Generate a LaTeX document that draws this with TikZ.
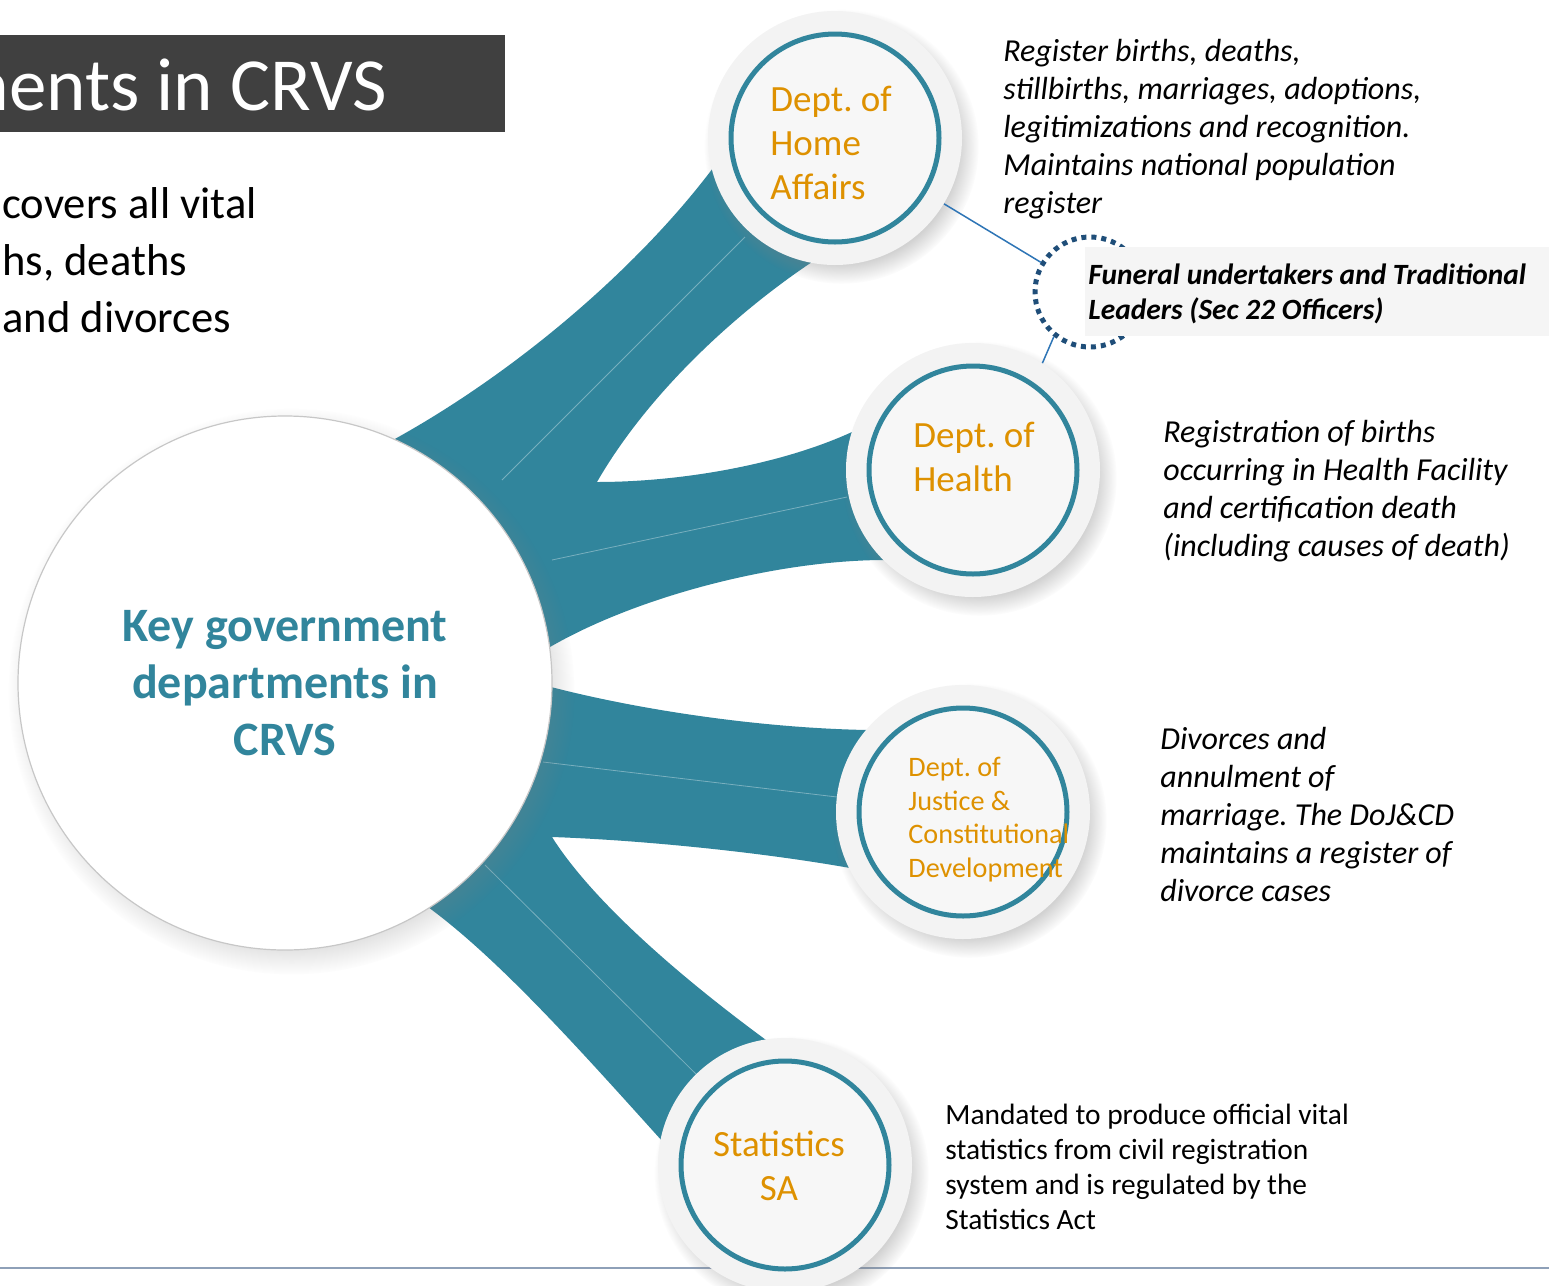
\documentclass[tikz,border=0pt]{standalone}
\usepackage{fontspec}
\setmainfont{Carlito}
\usepackage{tikz}
\usepackage{xcolor}
\usetikzlibrary{shadows}
\usetikzlibrary{fadings}
\definecolor{Ribbon Teal}{HTML}{31859C}
\definecolor{Title Gray}{HTML}{404040}
\definecolor{Dept Gold}{HTML}{DE9100}
\definecolor{Disc Gray}{HTML}{F3F3F3}
\definecolor{Link Blue}{HTML}{2E75B6}
\definecolor{Dot Blue}{HTML}{1F4E79}
\definecolor{Note Gray}{HTML}{F5F5F5}
\definecolor{Rule Gray}{HTML}{8EA0B8}
\frenchspacing

\tikzset{
    ribbon/.style={fill=Ribbon Teal},
    sheen/.style={draw=white, opacity=0.35, line width=0.4pt},
    hub/.style={circle, minimum size=267pt, inner sep=0pt, fill=white,
        draw=black!22, line width=0.6pt, align=center, text=Ribbon Teal,
        font=\bfseries\fontsize{24}{28.5}\selectfont,
        circular drop shadow={opacity=0.35, shadow scale=1.06,
            shadow xshift=3pt, shadow yshift=-4pt}},
    dept/.style={circle, minimum size=127pt, inner sep=0pt, fill=Disc Gray,
        circular drop shadow={opacity=0.35, shadow scale=1.08,
            shadow xshift=3pt, shadow yshift=-4pt},
        path picture={\draw[Ribbon Teal, line width=2.5pt, fill=white!97!black]
            (path picture bounding box.center) circle (52pt);}},
    deptlabel/.style={text=Dept Gold, align=left, inner sep=0pt,
        font=\fontsize{18.5}{22}\selectfont},
    notetext/.style={align=left, inner sep=0pt,
        font=\itshape\fontsize{16}{19}\selectfont},
    link/.style={draw=Link Blue, line width=0.75pt},
}

\begin{document}
\begin{tikzpicture}[x=0.5pt, y=-0.5pt]
    \useasboundingbox (0,0) rectangle (1549,1286);
    \fill[white] (0,0) rectangle (1549,1286);
    \clip (0,0) rectangle (1549,1286);

    % Title bar and intro text, cut at the left edge
    \fill[Title Gray] (0,35) rectangle (505,132);
    \node[anchor=base east, text=white, inner sep=0pt,
        font=\fontsize{37.5}{45}\selectfont] (title) at (387,110) {ments in CRVS};
    \node[anchor=north west, align=left, inner sep=0pt,
        font=\fontsize{22.3}{28.5}\selectfont] (intro) at (2,187)
        {covers all vital\\hs, deaths\\and divorces};

    % Ribbons from the hub to the departments
    \fill[ribbon] (393,440) .. controls (520,370) and (640,265) .. (713,168)
        -- (835,138) -- (812,262)
        .. controls (740,310) and (650,390) .. (597,482)
        .. controls (680,482) and (780,465) .. (852,432)
        -- (973,470) -- (885,560)
        .. controls (780,560) and (640,595) .. (550,647)
        -- (285,683) -- cycle;
    \fill[ribbon] (551,687) .. controls (640,710) and (760,728) .. (867,730)
        -- (963,812) -- (850,868)
        .. controls (760,852) and (640,840) .. (552,837)
        .. controls (595,905) and (690,985) .. (777,1048)
        -- (785,1165) -- (663,1142)
        .. controls (580,1050) and (500,960) .. (428,907)
        -- (285,683) -- cycle;
    \draw[sheen] (502,480) -- (745,237);
    \draw[sheen] (552,560) -- (847,497);
    \draw[sheen] (543,762) -- (837,797);
    \draw[sheen] (485,865) -- (700,1078);

    % Bottom rule
    \draw[Rule Gray, line width=0.8pt] (0,1268) -- (1549,1268);

    % Hub and department discs
    \node[hub] (hub) at (285,683) {Key government\\departments in\\CRVS};
    \node[dept] (ha) at (835,138) {};
    \node[dept] (hl) at (973,470) {};
    \node[dept] (ju) at (963,812) {};
    \node[dept] (st) at (785,1165) {};
    \node[deptlabel, anchor=north west] (haT) at (770,86) {Dept. of\\Home\\Affairs};
    \node[deptlabel, anchor=north west] (hlT) at (913,422) {Dept. of\\Health};
    \node[deptlabel, anchor=north west, font=\fontsize{14.1}{16.75}\selectfont]
        (juT) at (908,757) {Dept. of\\Justice \&\\Constitutional\\Development};
    \node[deptlabel, anchor=north, align=center] (stT) at (779,1131) {Statistics\\SA};

    % Sec 22 officers
    \node[circle, minimum size=55pt, draw=Dot Blue, line width=2.5pt,
        dash pattern=on 2.5pt off 2.5pt] (fun) at (1090,292) {};
    \fill[Note Gray] (1085,247) rectangle (1549,336);
    \node[anchor=north west, align=left, inner sep=0pt,
        font=\bfseries\itshape\fontsize{14.7}{17.5}\selectfont] (funT) at (1088,263)
        {Funeral undertakers and Traditional\\Leaders (Sec 22 Officers)};
    \draw[link] (ha) -- (fun);
    \draw[link] (fun.231) -- (hl.57);

    % Descriptions
    \node[notetext, anchor=north west] (haN) at (1003,39)
        {Register births, deaths,\\stillbirths, marriages, adoptions,\\legitimizations and recognition.\\Maintains national population\\register};
    \node[notetext, anchor=north west] (hlN) at (1163,420)
        {Registration of births\\occurring in Health Facility\\and certification death\\(including causes of death)};
    \node[notetext, anchor=north west] (juN) at (1160,727)
        {Divorces and\\annulment of\\marriage. The DoJ\&CD\\maintains a register of\\divorce cases};
    \node[anchor=north west, align=left, inner sep=0pt,
        font=\fontsize{14.7}{17.5}\selectfont] (stN) at (945,1104)
        {Mandated to produce official vital\\statistics from civil registration\\system and is regulated by the\\Statistics Act};
\end{tikzpicture}
\end{document}
